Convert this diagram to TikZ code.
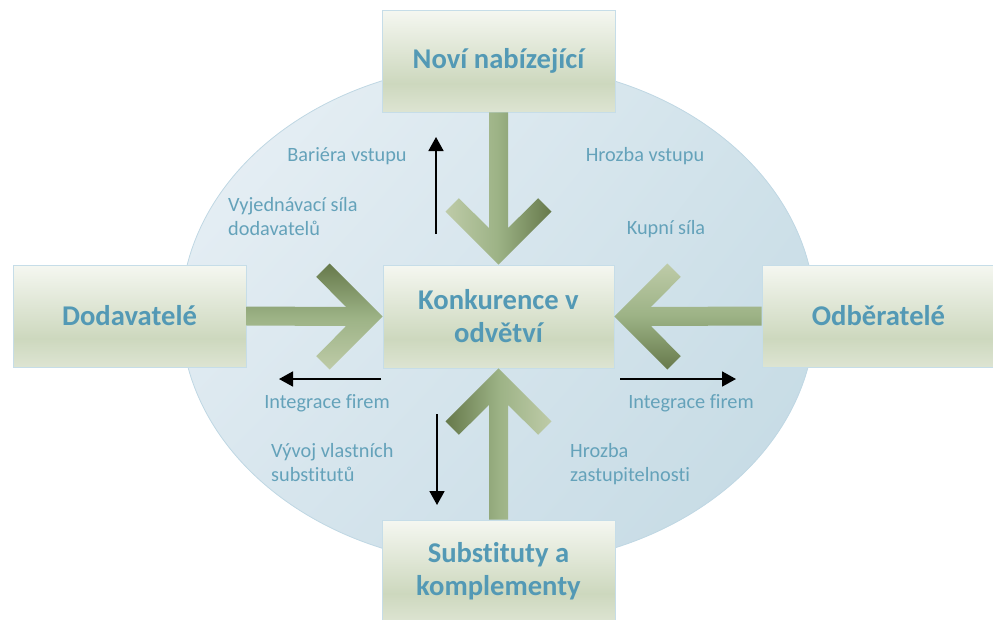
\documentclass[tikz,border=0pt]{standalone}
\usepackage{fontspec}
\setmainfont{Carlito}[Ligatures=NoCommon]
\usetikzlibrary{calc,arrows.meta,shapes.geometric,shadings}

\definecolor{boxtop}{HTML}{F5F7F1}
\definecolor{boxmid}{HTML}{CDD8BE}
\definecolor{boxbot}{HTML}{DDE4D2}
\definecolor{boxline}{HTML}{C6DDE8}
\definecolor{titleblue}{HTML}{5399B5}
\definecolor{lblblue}{HTML}{64A2BA}
\definecolor{arrlight}{HTML}{BECBA8}
\definecolor{arrmid}{HTML}{9CB285}
\definecolor{arrdark}{HTML}{66794B}
\definecolor{fieldul}{HTML}{EAF1F6}
\definecolor{fieldur}{HTML}{D0E2EA}
\definecolor{fieldll}{HTML}{D8E6EE}
\definecolor{fieldlr}{HTML}{C3D9E3}
\definecolor{fieldline}{HTML}{BFD7E3}

% box fill: light top, darker band below the middle, lighter again at the bottom
\pgfdeclareverticalshading{boxfill}{100bp}{color(0bp)=(boxbot); color(25bp)=(boxbot);
  color(39bp)=(boxmid); color(75bp)=(boxtop); color(100bp)=(boxtop)}

% wide chevron arrow from node anchor #1 to tip anchor #2, pointing at angle #3
\newcommand\bigarrow[4]{%
  \shade[#4] (#2)
    -- ($(#2)+(#3:-53)+(#3+90:-53)$)
    -- ($(#2)+(#3:-66.4)+(#3+90:-39.6)$)
    -- ($(#2)+(#3:-36.4)+(#3+90:-9.5)$)
    -- ($(#1)+(#3+90:-9.5)$)
    -- ($(#1)+(#3+90:9.5)$)
    -- ($(#2)+(#3:-36.4)+(#3+90:9.5)$)
    -- ($(#2)+(#3:-66.4)+(#3+90:39.6)$)
    -- ($(#2)+(#3:-53)+(#3+90:53)$)
    -- cycle;}

\begin{document}
\begin{tikzpicture}[x=1pt,y=-1pt,
  box/.style={draw=boxline, line width=0.8pt, shade, shading=boxfill,
    minimum width=233pt, minimum height=102pt, inner sep=0pt, align=center,
    text=titleblue, font=\bfseries\fontsize{28.6}{33}\selectfont},
  lbl/.style={text=lblblue, inner sep=0pt, align=left,
    font=\fontsize{20.3}{24}\selectfont},
  thin/.style={line width=1.8pt, -{Triangle[length=14pt,width=15pt]}}]
\useasboundingbox (0,0) rectangle (993,619);

% background field
\node[ellipse, draw=fieldline, line width=0.8pt, minimum width=634pt,
  minimum height=502pt, inner sep=0pt,
  upper left=fieldul, upper right=fieldur, lower left=fieldll, lower right=fieldlr]
  (field) at (498,314.5) {};

% the five forces
\node[box] (nb)  at (498.5,61)  {Noví nabízející};
\node[box] (dod) at (129.5,316) {Dodavatelé};
\node[box, minimum width=231pt, minimum height=103pt] (kon) at (498.5,316.5) {Konkurence v\\odvětví};
\node[box] (odb) at (878.5,316) {Odběratelé};
\node[box] (sub) at (498.5,571) {Substituty a\\komplementy};

% pressure arrows towards the industry
\bigarrow{nb.south}{kon.north}{90}{left color=arrlight, right color=arrdark, middle color=arrmid}
\bigarrow{dod.east}{kon.west}{0}{top color=arrdark, bottom color=arrlight, middle color=arrmid}
\bigarrow{odb.west}{kon.east}{180}{top color=arrlight, bottom color=arrdark, middle color=arrmid}
\bigarrow{sub.north}{kon.south}{270}{left color=arrdark, right color=arrlight, middle color=arrmid}

% counter-moves
\coordinate (ua) at (436,234);  \coordinate (ub) at (436,137);
\coordinate (la) at (381,379);  \coordinate (lb) at (279,379);
\coordinate (ra) at (620,379);  \coordinate (rb) at (736,379);
\coordinate (da) at (437,414);  \coordinate (db) at (437,505);
\draw[thin] (ua) -- (ub);
\draw[thin] (la) -- (lb);
\draw[thin] (ra) -- (rb);
\draw[thin] (da) -- (db);

% labels
\node[lbl] (l1) at (347,156) {Bariéra vstupu};
\node[lbl] (l2) at (645,156) {Hrozba vstupu};
\node[lbl, anchor=west] (l3) at (228,217) {Vyjednávací síla\\dodavatelů};
\node[lbl] (l4) at (666,229) {Kupní síla};
\node[lbl] (l5) at (327,403) {Integrace firem};
\node[lbl] (l6) at (691,403) {Integrace firem};
\node[lbl, anchor=west] (l7) at (271,463) {Vývoj vlastních\\substitutů};
\node[lbl, anchor=west] (l8) at (570,464) {Hrozba\\zastupitelnosti};
\end{tikzpicture}
\end{document}
